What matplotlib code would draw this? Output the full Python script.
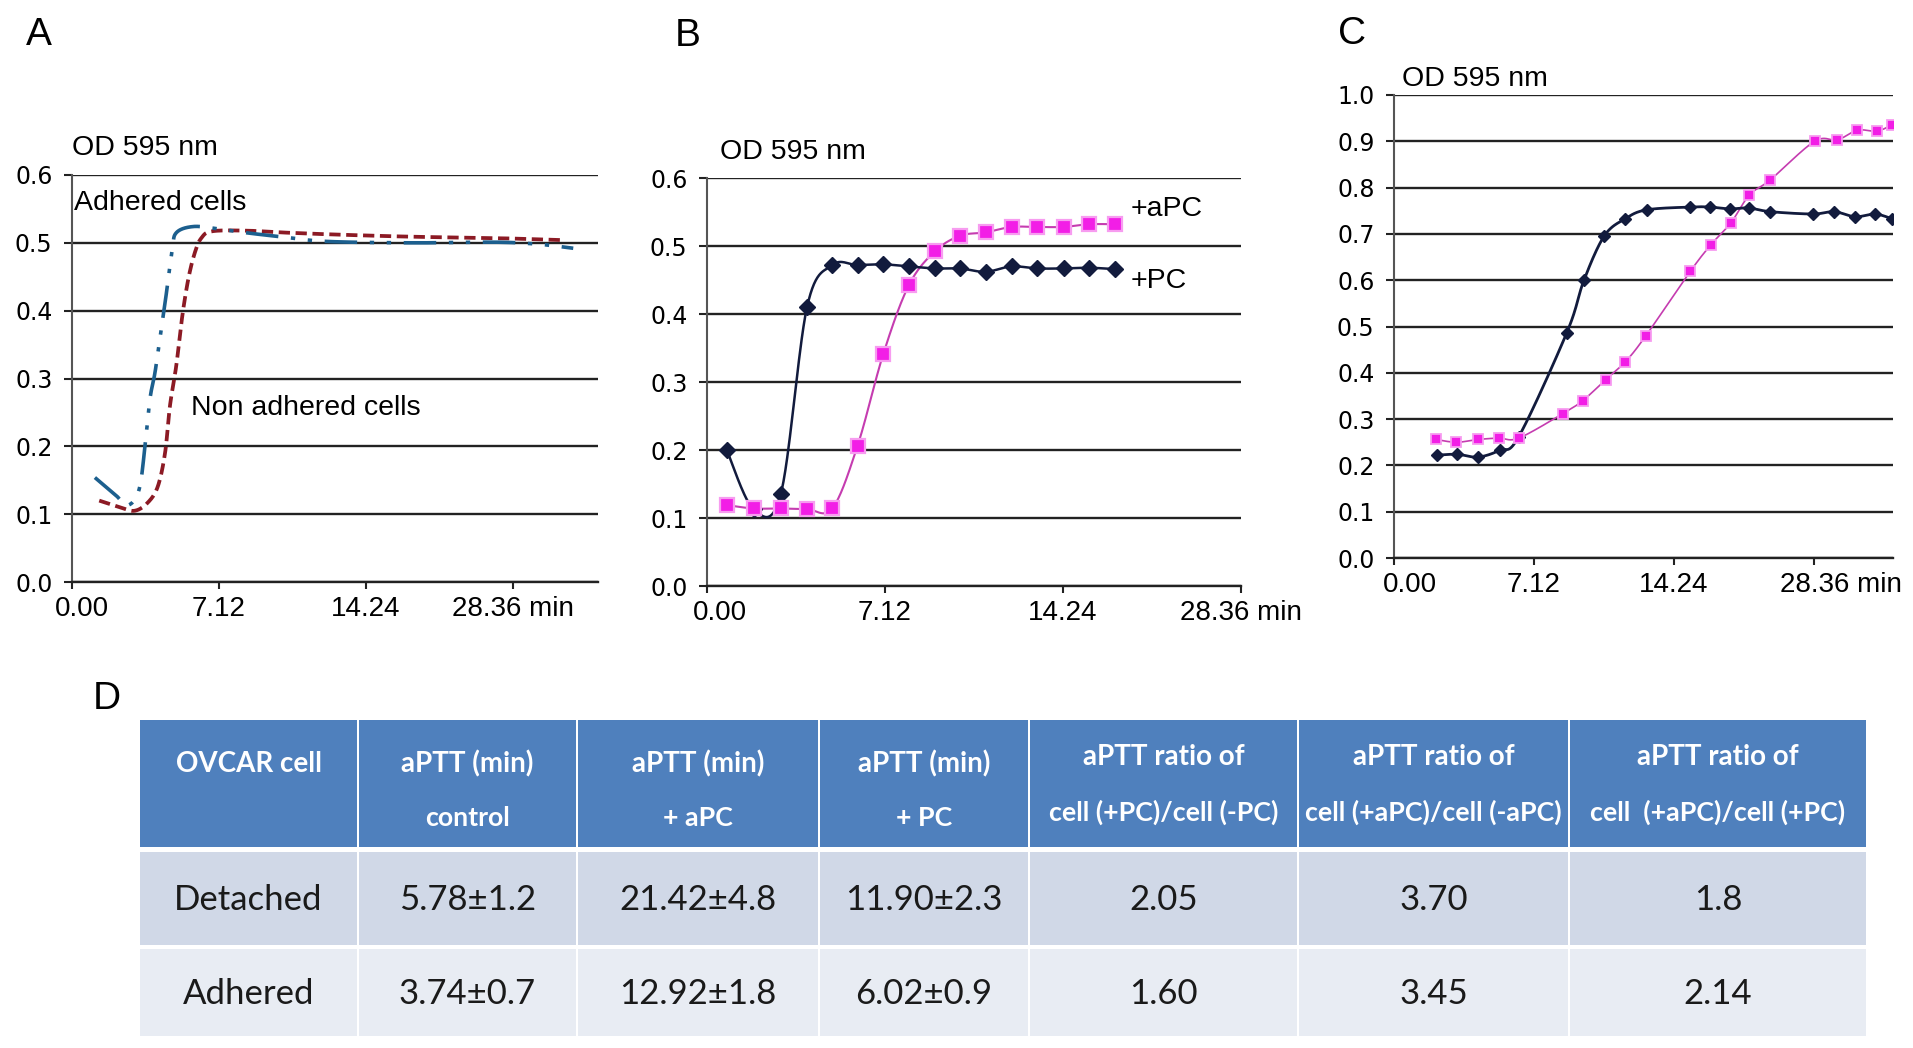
import numpy as np
import matplotlib.pyplot as plt
from matplotlib.patches import Rectangle
from matplotlib.transforms import ScaledTranslation

# ---- panel A : OD 595 nm, adhered vs non adhered cells
a_adh_t = [1.11, 2.12, 2.69, 3.24, 3.54, 3.78, 4.03, 4.31, 4.55, 4.86, 5.06, 5.87,
           7.0, 8.4, 10.4, 12.4, 16.5, 20.5, 22.6, 24.3]
a_adh_od = [0.154, 0.128, 0.113, 0.135, 0.20, 0.27, 0.31, 0.37, 0.42, 0.49, 0.515, 0.524,
            0.521, 0.515, 0.508, 0.502, 0.500, 0.501, 0.498, 0.492]
a_non_t = [1.32, 2.33, 3.03, 3.64, 4.15, 4.51, 4.75, 5.06, 5.36, 5.66, 5.97, 6.27, 6.78,
           8.4, 10.4, 13.0, 16.5, 20.5, 23.8]
a_non_od = [0.12, 0.11, 0.105, 0.116, 0.14, 0.19, 0.26, 0.32, 0.395, 0.45, 0.487, 0.507, 0.517,
            0.518, 0.515, 0.512, 0.509, 0.507, 0.504]

# ---- panel B : +PC / +aPC
b_t = [0.79, 1.86, 2.95, 4.00, 5.01, 6.02, 7.05, 8.07, 9.11, 10.12, 11.14, 12.18,
       13.21, 14.26, 15.27, 16.32]
b_pc = [0.200, 0.113, 0.135, 0.410, 0.472, 0.472, 0.473, 0.470, 0.467, 0.467, 0.462, 0.470,
        0.467, 0.467, 0.468, 0.466]
b_apc = [0.119, 0.114, 0.114, 0.113, 0.114, 0.206, 0.341, 0.442, 0.492, 0.515, 0.520, 0.528,
         0.528, 0.528, 0.532, 0.532]

# ---- panel C
c_pc_t = [2.17, 3.22, 4.28, 5.39, 6.35, 8.80, 9.67, 10.71, 11.78, 12.86, 15.08, 16.08,
          17.11, 18.05, 19.16, 21.31, 22.41, 23.48, 24.48, 25.33]
c_pc = [0.222, 0.224, 0.218, 0.233, 0.262, 0.487, 0.600, 0.696, 0.733, 0.752, 0.758, 0.758,
        0.754, 0.756, 0.748, 0.743, 0.748, 0.737, 0.743, 0.733]
c_apc_t = [2.13, 3.18, 4.28, 5.35, 6.35, 8.60, 9.61, 10.77, 11.78, 12.82, 15.08, 16.14,
           17.15, 18.09, 19.16, 21.41, 22.57, 23.58, 24.58, 25.33]
c_apc = [0.256, 0.250, 0.256, 0.259, 0.259, 0.312, 0.340, 0.385, 0.424, 0.480, 0.619, 0.677,
         0.724, 0.784, 0.817, 0.900, 0.903, 0.924, 0.922, 0.935]

x_tick_pos = [0.0, 7.12, 14.24, 21.36]
x_tick_labels = ['0.00', '7.12', '14.24', '28.36 min']

# ---- panel D : table
table_header = [('OVCAR cell', ''),
                ('aPTT (min)', 'control'),
                ('aPTT (min)', '+ aPC'),
                ('aPTT (min)', '+ PC'),
                ('aPTT ratio of', 'cell (+PC)/cell (-PC)'),
                ('aPTT ratio of', 'cell (+aPC)/cell (-aPC)'),
                ('aPTT ratio of', 'cell  (+aPC)/cell (+PC)')]
row_names = ['Detached', 'Adhered']
aptt_control = ['5.78±1.2', '3.74±0.7']
aptt_apc = ['21.42±4.8', '12.92±1.8']
aptt_pc = ['11.90±2.3', '6.02±0.9']
ratio_pc = ['2.05', '1.60']
ratio_apc = ['3.70', '3.45']
ratio_apc_pc = ['1.8', '2.14']

NAVY = '#121b3d'
MAGENTA_LINE = '#c53cb0'
MAGENTA = '#f21ee6'
MAGENTA_EDGE = '#f79cf0'
GRID = '#222222'
ARIAL = ['Liberation Sans', 'DejaVu Sans']

W, H = 1913, 1048


def smooth(x, y, n=30):
    """Courbe lissée type Excel (Bezier / Catmull-Rom) passant par les points."""
    x = np.asarray(x, float)
    y = np.asarray(y, float)
    px = np.r_[x[0], x, x[-1]]
    py = np.r_[y[0], y, y[-1]]
    t = np.linspace(0, 1, n)[1:]
    out_x, out_y = [x[0]], [y[0]]
    for i in range(1, len(px) - 2):
        for p, out in ((px, out_x), (py, out_y)):
            p0, p1, p2, p3 = p[i - 1], p[i], p[i + 1], p[i + 2]
            c1 = p1 + (p2 - p0) / 6
            c2 = p2 - (p3 - p1) / 6
            b = (1 - t) ** 3 * p1 + 3 * (1 - t) ** 2 * t * c1 + 3 * (1 - t) * t ** 2 * c2 + t ** 3 * p2
            out.extend(b)
    return np.array(out_x), np.array(out_y)


def px_rect(l, t, r, b):
    return [l / W, 1 - b / H, (r - l) / W, (b - t) / H]


def setup_panel(ax, ymax, xmax, first_shift=10, last_shift=0):
    ax.set_xlim(0, xmax)
    ax.set_ylim(0, ymax)
    yt = np.round(np.arange(0, ymax + 0.001, 0.1), 1)
    ax.set_yticks(yt)
    ax.set_yticklabels([f'{v:.1f}' for v in yt], fontsize=17, family='DejaVu Sans')
    ax.grid(axis='y', color=GRID, lw=1.7)
    ax.set_axisbelow(True)
    for s in ('top', 'right'):
        ax.spines[s].set_visible(False)
    ax.spines['left'].set_color('#555555')
    ax.spines['left'].set_linewidth(1.5)
    ax.spines['bottom'].set_color(GRID)
    ax.spines['bottom'].set_linewidth(1.7)
    ax.set_xticks(x_tick_pos)
    ax.set_xticklabels(x_tick_labels, fontsize=20, family=ARIAL)
    ax.tick_params(axis='x', length=5, width=1.5, color=GRID, pad=5)
    ax.tick_params(axis='y', length=6, width=1.5, color=GRID, pad=8)
    labs = ax.get_xticklabels()
    fig = ax.figure
    labs[0].set_transform(labs[0].get_transform() +
                          ScaledTranslation(first_shift / 100, 0, fig.dpi_scale_trans))
    labs[-1].set_transform(labs[-1].get_transform() +
                           ScaledTranslation(last_shift / 100, 0, fig.dpi_scale_trans))


fig = plt.figure(figsize=(W / 100, H / 100), dpi=100)

# overlay in pixel coordinates for panel letters, OD labels and the table
over = fig.add_axes([0, 0, 1, 1], zorder=-1)
over.set_xlim(0, W)
over.set_ylim(H, 0)
over.axis('off')

# ---------- A
axA = fig.add_axes(px_rect(72, 175, 598, 582))
setup_panel(axA, 0.6, 25.5, first_shift=10)
xs, ys = smooth(a_non_t, a_non_od)
axA.plot(xs, ys, color='#8c1a24', lw=2.7, dashes=(3.0, 1.5))
xs, ys = smooth(a_adh_t, a_adh_od)
axA.plot(xs, ys, color='#1c5f8e', lw=2.6, dashes=(9, 3.5, 1.2, 3.5, 1.2, 3.5))
axA.text(0.1, 0.558, 'Adhered cells', fontsize=20.5, family=ARIAL, va='center', ha='left')
axA.text(5.75, 0.256, 'Non adhered cells', fontsize=20.5, family=ARIAL, va='center', ha='left')

# ---------- B
axB = fig.add_axes(px_rect(707, 178, 1241, 586))
setup_panel(axB, 0.6, 21.36, first_shift=13)
xs, ys = smooth(b_t, b_apc)
axB.plot(xs, ys, color=MAGENTA_LINE, lw=1.5)
xs, ys = smooth(b_t, b_pc)
axB.plot(xs, ys, color=NAVY, lw=1.8)
axB.plot(b_t, b_pc, 'D', color=NAVY, ms=8.5, zorder=3)
axB.plot(b_t, b_apc, 's', color=MAGENTA, mec=MAGENTA_EDGE, mew=1.6, ms=9.5, zorder=4)
axB.text(16.95, 0.554, '+aPC', fontsize=20.5, family=ARIAL, va='center', ha='left')
axB.text(16.95, 0.448, '+PC', fontsize=20.5, family=ARIAL, va='center', ha='left')

# ---------- C
axC = fig.add_axes(px_rect(1394, 95, 1893, 558))
setup_panel(axC, 1.0, 25.4, first_shift=16, last_shift=27)
xs, ys = smooth(c_apc_t, c_apc)
axC.plot(xs, ys, color=MAGENTA_LINE, lw=1.2)
xs, ys = smooth(c_pc_t, c_pc)
axC.plot(xs, ys, color=NAVY, lw=2.0)
axC.plot(c_pc_t, c_pc, 'D', color=NAVY, ms=6, zorder=3)
axC.plot(c_apc_t, c_apc, 's', color=MAGENTA, mec=MAGENTA_EDGE, mew=1.3, ms=7.5, zorder=4)

# panel letters and y titles
for lab, (x, y) in {'A': (39, 35), 'B': (688, 36), 'C': (1352, 34), 'D': (107, 699)}.items():
    over.text(x, y, lab, fontsize=28, family=ARIAL, ha='center', va='center')
for x, y in [(72, 148), (720, 152), (1402, 79)]:
    over.text(x, y, 'OD 595 nm', fontsize=20.5, family=ARIAL, ha='left', va='center')

# ---------- D table
col_edges = [139, 358, 577, 819, 1029, 1298, 1569, 1867]
header_box = (720, 847)
row_boxes = [(852, 945), (949, 1036)]
row_fills = ['#d0d8e7', '#e8ecf3']
LATO = ['Lato', 'DejaVu Sans']

body = [row_names, aptt_control, aptt_apc, aptt_pc, ratio_pc, ratio_apc, ratio_apc_pc]

for j in range(len(col_edges) - 1):
    l, r = col_edges[j] + 1, col_edges[j + 1] - 1
    cx = (col_edges[j] + col_edges[j + 1]) / 2
    over.add_patch(Rectangle((l, header_box[0]), r - l, header_box[1] - header_box[0],
                             facecolor='#4f80bd', edgecolor='none'))
    line1, line2 = table_header[j]
    y1 = 764 if j < 4 else 757
    y2 = 818 if j < 4 else 812
    over.text(cx, y1, line1, fontsize=20, family=LATO, weight='bold', color='white',
              ha='center', va='center')
    if line2:
        over.text(cx, y2, line2, fontsize=19.3, family=LATO, weight='bold', color='white',
                  ha='center', va='center')
    for i, (top, bot) in enumerate(row_boxes):
        over.add_patch(Rectangle((l, top), r - l, bot - top, facecolor=row_fills[i],
                                 edgecolor='none'))
        over.text(cx, (top + bot) / 2 + 1, body[j][i], fontsize=25, family=LATO,
                  color='#1a1a1a', ha='center', va='center')

fig.savefig('out.png', dpi=100, facecolor='white')
